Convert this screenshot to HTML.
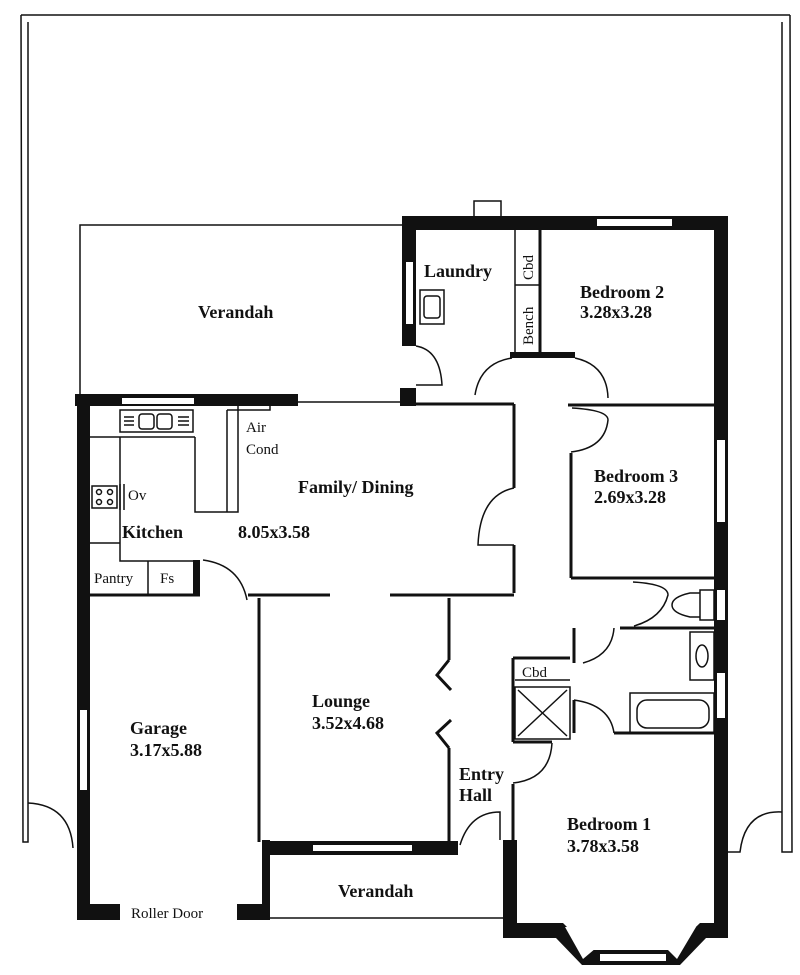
<!DOCTYPE html>
<html><head><style>
html,body{margin:0;padding:0;background:#fff}
svg{display:block}
text{font-family:"Liberation Serif",serif;fill:#111}
.b{font-weight:bold;font-size:18px}
.r{font-size:15px}
</style></head><body>
<svg width="800" height="975" viewBox="0 0 800 975" xmlns="http://www.w3.org/2000/svg">
<g fill="none" stroke="#111" stroke-width="1.5">
<!-- outer boundary -->
<line x1="21" y1="15" x2="790" y2="15"/>
<polyline points="21,15 23,842 28,842 28,803"/>
<line x1="28" y1="803" x2="28" y2="22"/>
<path d="M28 803 Q70 805 73 848"/>
<polyline points="790,15 792,852 782,852 782,812"/>
<line x1="782" y1="812" x2="782" y2="22"/>
<path d="M782 812 Q745 810 740 852 L728 852"/>
<!-- upper verandah -->
<polyline points="80,395 80,225 404,225"/>
<!-- sliding door -->
<line x1="298" y1="402" x2="400" y2="402"/>
<!-- lower verandah -->
<line x1="270" y1="918" x2="505" y2="918"/>
</g>
<g fill="#111">
<rect x="474" y="201" width="27" height="16" fill="#fff" stroke="#111" stroke-width="1.5"/>
<rect x="402" y="216" width="326" height="14"/>
<rect x="597" y="219" width="75" height="7" fill="#fff"/>
<rect x="714" y="216" width="14" height="722"/>
<rect x="717" y="440" width="8" height="82" fill="#fff"/>
<rect x="717" y="590" width="8" height="30" fill="#fff"/>
<rect x="717" y="673" width="8" height="45" fill="#fff"/>
<rect x="402" y="216" width="14" height="130"/>
<rect x="406" y="262" width="7" height="62" fill="#fff"/>
<rect x="400" y="388" width="16" height="18"/>
<rect x="75" y="394" width="223" height="12"/>
<rect x="122" y="398" width="72" height="6" fill="#fff"/>
<rect x="77" y="394" width="13" height="526"/>
<rect x="80" y="710" width="7" height="80" fill="#fff"/>
<rect x="77" y="904" width="43" height="16"/>
<rect x="237" y="904" width="33" height="16"/>
<rect x="262" y="840" width="8" height="80"/>
<rect x="262" y="841" width="196" height="14"/>
<rect x="313" y="845" width="99" height="6" fill="#fff"/>
<rect x="503" y="840" width="14" height="97"/>
<polygon points="503,923 563,923 590,950 672,950 700,923 728,923 728,938 706,938 680,965 582,965 556,938 503,938"/>
<polygon points="565,927 578,927 596,948 583,959" fill="#fff"/>
<polygon points="684,927 696,927 677,959 666,948" fill="#fff"/>
<rect x="600" y="954" width="66" height="7" fill="#fff"/>
<rect x="193" y="560" width="7" height="36"/>
<rect x="510" y="352" width="65" height="6"/>
</g>
<g fill="none" stroke="#111" stroke-width="3">
<line x1="514" y1="404" x2="514" y2="488"/>
<line x1="514" y1="545" x2="514" y2="593"/>
<line x1="416" y1="404" x2="514" y2="404"/>
<line x1="248" y1="595" x2="330" y2="595"/>
<line x1="390" y1="595" x2="514" y2="595"/>
<line x1="90" y1="595" x2="200" y2="595"/>
<line x1="259" y1="598" x2="259" y2="842"/>
<line x1="449" y1="598" x2="449" y2="660"/>
<polyline points="449,660 437,675 451,690"/>
<polyline points="451,720 437,733 449,748"/>
<line x1="449" y1="748" x2="449" y2="842"/>
<line x1="540" y1="230" x2="540" y2="352"/>
<line x1="568" y1="405" x2="714" y2="405"/>
<line x1="571" y1="453" x2="571" y2="578"/>
<line x1="571" y1="578" x2="714" y2="578"/>
<line x1="620" y1="628" x2="714" y2="628"/>
<line x1="574" y1="628" x2="574" y2="663"/>
<line x1="614" y1="733" x2="714" y2="733"/>
<line x1="574" y1="700" x2="574" y2="733"/>
<line x1="513" y1="658" x2="513" y2="742"/>
<line x1="513" y1="742" x2="552" y2="742"/>
<line x1="513" y1="658" x2="570" y2="658"/>
<line x1="513" y1="784" x2="513" y2="840"/>
</g>
<g fill="none" stroke="#111" stroke-width="1.5">
<line x1="515" y1="230" x2="515" y2="352"/>
<line x1="515" y1="285" x2="540" y2="285"/>
<rect x="420" y="290" width="24" height="34"/>
<rect x="424" y="296" width="16" height="22" rx="3"/>
<path d="M416 346 Q440 350 442 385 L416 385"/>
<path d="M475 395 Q480 363 512 358"/>
<path d="M575 358 Q607 365 608 398"/>
<path d="M572 408 Q608 410 608 420 Q605 448 571 452"/>
<path d="M514 488 Q480 495 478 545 L514 545"/>
<path d="M203 560 Q240 565 247 600"/>
<path d="M633 582 Q668 584 668 595 Q662 618 634 626"/>
<path d="M583 663 Q612 655 614 628"/>
<path d="M574 700 Q610 705 614 733"/>
<path d="M513 783 Q550 779 552 743"/>
<path d="M460 845 Q470 812 500 812 L500 840"/>
<rect x="120" y="410" width="73" height="22"/>
<rect x="139" y="414" width="15" height="15" rx="3"/>
<rect x="157" y="414" width="15" height="15" rx="3"/>
<line x1="124" y1="417" x2="134" y2="417"/><line x1="124" y1="421" x2="134" y2="421"/><line x1="124" y1="425" x2="134" y2="425"/>
<line x1="178" y1="417" x2="189" y2="417"/><line x1="178" y1="421" x2="189" y2="421"/><line x1="178" y1="425" x2="189" y2="425"/>
<line x1="90" y1="437" x2="195" y2="437"/>
<polyline points="120,437 120,561 193,561"/>
<polyline points="195,437 195,512 238,512 238,405"/>
<line x1="227" y1="410" x2="227" y2="512"/>
<polyline points="227,410 270,410 270,404"/>
<rect x="92" y="486" width="25" height="22"/>
<circle cx="99" cy="492" r="2.5"/><circle cx="110" cy="492" r="2.5"/>
<circle cx="99" cy="502" r="2.5"/><circle cx="110" cy="502" r="2.5"/>
<line x1="120" y1="484" x2="120" y2="510"/><line x1="124" y1="484" x2="124" y2="510"/>
<line x1="90" y1="543" x2="120" y2="543"/>
<line x1="148" y1="561" x2="148" y2="595"/>
<rect x="700" y="590" width="14" height="30"/>
<path d="M700 593 L690 593 Q672 597 672 605 Q672 613 690 617 L700 617"/>
<rect x="690" y="632" width="24" height="48"/>
<ellipse cx="702" cy="656" rx="6" ry="11"/>
<rect x="630" y="693" width="84" height="40"/>
<rect x="637" y="700" width="72" height="28" rx="10"/>
<rect x="515" y="687" width="55" height="52"/>
<line x1="518" y1="690" x2="567" y2="736"/><line x1="567" y1="690" x2="518" y2="736"/>
<line x1="515" y1="680" x2="570" y2="680"/>
</g>
<text class="b" x="198" y="318">Verandah</text>
<text class="b" x="424" y="277">Laundry</text>
<text class="r" transform="translate(533,280) rotate(-90)" font-size="14">Cbd</text>
<text class="r" transform="translate(533,345) rotate(-90)" font-size="14">Bench</text>
<text class="b" x="580" y="298">Bedroom 2</text>
<text class="b" x="580" y="318">3.28x3.28</text>
<text class="b" x="594" y="482">Bedroom 3</text>
<text class="b" x="594" y="503">2.69x3.28</text>
<text class="r" x="246" y="432">Air</text>
<text class="r" x="246" y="454">Cond</text>
<text class="b" x="298" y="493">Family/ Dining</text>
<text class="r" x="128" y="500">Ov</text>
<text class="b" x="122" y="538">Kitchen</text>
<text class="b" x="238" y="538">8.05x3.58</text>
<text class="r" x="94" y="583" font-size="14">Pantry</text>
<text class="r" x="160" y="583" font-size="14">Fs</text>
<text class="b" x="130" y="734">Garage</text>
<text class="b" x="130" y="756">3.17x5.88</text>
<text class="b" x="312" y="707">Lounge</text>
<text class="b" x="312" y="729">3.52x4.68</text>
<text class="b" x="459" y="780" font-size="16">Entry</text>
<text class="b" x="459" y="801" font-size="16">Hall</text>
<text class="r" x="522" y="677" font-size="14">Cbd</text>
<text class="b" x="567" y="830">Bedroom 1</text>
<text class="b" x="567" y="852">3.78x3.58</text>
<text class="b" x="338" y="897">Verandah</text>
<text class="r" x="131" y="918" font-size="14">Roller Door</text>
</svg>
</body></html>
